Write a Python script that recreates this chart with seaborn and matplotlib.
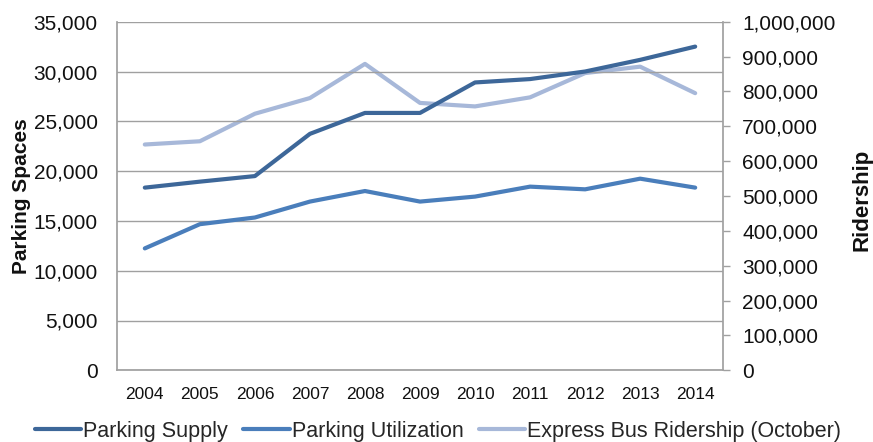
import matplotlib
matplotlib.use("Agg")
import matplotlib.pyplot as plt
import seaborn as sns
import pandas as pd
from matplotlib.ticker import FuncFormatter, MultipleLocator

years = ["2004", "2005", "2006", "2007", "2008", "2009", "2010", "2011", "2012", "2013", "2014"]
parking_supply = [18340, 18940, 19500, 23740, 25840, 25840, 28900, 29240, 30000, 31170, 32500]
parking_utilization = [12240, 14670, 15340, 16940, 18000, 16940, 17440, 18440, 18170, 19240, 18340]
express_bus_ridership = [647700, 657000, 736000, 781000, 879000, 767000, 757000, 783000, 852600, 871000, 795000]

series_names = ["Parking Supply", "Parking Utilization", "Express Bus Ridership (October)"]
colors = ["#3D6799", "#4A7EBB", "#A7B8D9"]

sns.set_theme(style="white")
plt.rcParams["font.family"] = ["Liberation Sans", "DejaVu Sans"]

fig = plt.figure(figsize=(8.73, 4.42), dpi=100)
W, H = 873, 442
left, right, top, bottom = 117.3, 722.7, 21.7, 370.3
ax = fig.add_axes([left / W, 1 - bottom / H, (right - left) / W, (bottom - top) / H])

df = pd.DataFrame({"Year": years, "Supply": parking_supply, "Util": parking_utilization,
                   "Rider": express_bus_ridership})
lw = 3.0
sns.lineplot(data=df, x="Year", y="Supply", ax=ax, color=colors[0], lw=lw, sort=False,
             label=series_names[0], legend=False)
sns.lineplot(data=df, x="Year", y="Util", ax=ax, color=colors[1], lw=lw, sort=False,
             label=series_names[1], legend=False)
ax2 = ax.twinx()
sns.lineplot(data=df, x="Year", y="Rider", ax=ax2, color=colors[2], lw=lw, sort=False,
             label=series_names[2], legend=False)
ax.set_zorder(ax2.get_zorder() + 1)
ax.patch.set_visible(False)
for a in (ax, ax2):
    for l in a.get_lines():
        l.set_solid_capstyle("round")

ax.set_xlim(-0.5, 10.5)
ax.set_ylim(0, 35000)
ax2.set_ylim(0, 1000000)
ax.yaxis.set_major_locator(MultipleLocator(5000))
ax2.yaxis.set_major_locator(MultipleLocator(100000))
fmt = FuncFormatter(lambda v, p: f"{int(v):,}")
ax.yaxis.set_major_formatter(fmt)
ax2.yaxis.set_major_formatter(fmt)

grid_c = "#A0A0A0"
ax.grid(axis="y", color=grid_c, lw=1.0)
ax.grid(axis="x", visible=False)
for a in (ax, ax2):
    for s in a.spines.values():
        s.set_visible(False)
ax.spines["left"].set_visible(True)
ax.spines["left"].set_color(grid_c)
ax.spines["bottom"].set_visible(True)
ax.spines["bottom"].set_color(grid_c)
ax2.spines["right"].set_visible(True)
ax2.spines["right"].set_color(grid_c)

ax.tick_params(axis="y", left=False, labelsize=15, pad=8, colors="#111111")
ax.tick_params(axis="x", bottom=False, labelsize=12.5, pad=6, colors="#111111")
ax2.tick_params(axis="y", right=True, direction="out", length=5, width=1, color=grid_c,
                labelsize=15, pad=9, labelcolor="#111111")

ax.set_xlabel("")
ax.set_ylabel("")
ax2.set_ylabel("")
fig.text(22 / W, 1 - 196 / H, "Parking Spaces", rotation=90, ha="center", va="center",
         fontsize=15, fontweight="bold", color="#111111")
fig.text(862 / W, 1 - 200 / H, "Ridership", rotation=90, ha="center", va="center",
         fontsize=16, fontweight="bold", color="#111111")

handles = ax.get_lines()[:2] + ax2.get_lines()[:1]
fig.legend(handles, series_names, loc="center left", bbox_to_anchor=(35 / W, 1 - 431.5 / H), ncol=3,
           frameon=False, fontsize=15.5, handlelength=2.15, handletextpad=0.1, columnspacing=0.7,
           borderpad=0, borderaxespad=0)

fig.savefig("out.png", dpi=100)
